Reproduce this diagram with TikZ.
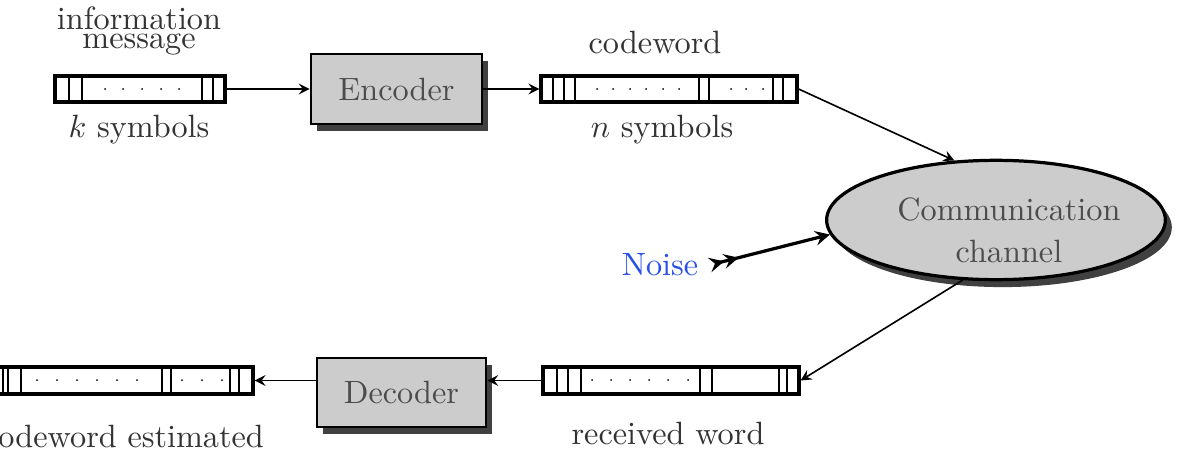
\documentclass[tikz,border=0pt]{standalone}
\usetikzlibrary{shapes,arrows,shadows,fit}

\definecolor{noiseblue}{RGB}{40,80,230}

\tikzset{
  reg/.style={draw, line width=1pt, inner sep=0pt},
  block/.style={draw, line width=0.8pt, fill=black!20, text=black!70, inner sep=0pt,
    drop shadow={shadow xshift=2pt, shadow yshift=-2.3pt, fill=black!75, opacity=1}},
  lbl/.style={text=black!80},
  conn/.style={->, >=stealth, line width=0.5pt}
}

\begin{document}
\begin{tikzpicture}[x=0.31pt, y=-0.31pt]
\useasboundingbox (0,0) rectangle (1182,457);

% registers
\node[reg, fit={(55,76) (225,102)}] (msg) {};
\node[reg, fit={(541,76) (797,102)}] (code) {};
\node[reg, fit={(543,367) (799,394)}] (recv) {};
\node[reg, fit={(-5,367) (253,394)}] (est) {};

\foreach \x in {69,82,202,213} \draw[line width=0.5pt] (\x,76) -- (\x,102);
\foreach \x in {105,123,142,161,179} \fill (\x,89) circle (1);

\foreach \x in {553,564,575,699,709,773,783} \draw[line width=0.5pt] (\x,76) -- (\x,102);
\foreach \x in {597,613,630,646,663,679,731,746,763} \fill (\x,89) circle (1);

\foreach \x in {557,568,581,700,712,779,787} \draw[line width=0.5pt] (\x,367) -- (\x,394);
\foreach \x in {592,611,630,649,668,688} \fill (\x,380) circle (1);

\foreach \x in {3,8,21,162,171,230,239} \draw[line width=0.5pt] (\x,367) -- (\x,394);
\foreach \x in {37,57,77,97,117,137,182,202,222} \fill (\x,380) circle (1);

% blocks
\node[block, minimum width=53pt, minimum height=21.7pt] (enc) at (396.5,89) {Encoder};
\node[block, minimum width=52.4pt, minimum height=21.4pt] (dec) at (401.5,392.5) {\raisebox{-1.5pt}{Decoder}};
\node[block, ellipse, line width=1pt, minimum width=105pt, minimum height=37pt,
  label={[xshift=4pt, yshift=-3.2pt, align=center, text=black!70]center:{Communication\\[1pt]channel}}] (chan) at (996,220) {};

% labels
\node[lbl] (info) at (139,18) {information};
\node[lbl] (infomsg) at (139,45) {message};
\node[lbl] (ksym) at (139,130) {$k$ symbols};
\node[lbl] (cw) at (655,42) {codeword};
\node[lbl] (nsym) at (662,130) {$n$ symbols};
\node[text=noiseblue] (noise) at (660,265) {Noise};
\node[lbl] (rw) at (668,433) {received word};
\node[lbl] (cwest) at (124,436) {codeword estimated};

% connectors
\draw[conn] (msg.east) -- (enc.west);
\draw[conn] (enc.east) -- (code.west);
\draw[conn] (code.east) -- (chan.125);
\draw[conn] (chan.241) -- (recv.east);
\draw[conn] (recv.west) -- (recv.west -| dec.east);
\draw[conn] (est.east -| dec.west) -- (est.east);
\draw[>>->, >=stealth, line width=1pt] (noise.east) -- (chan.185);

\end{tikzpicture}
\end{document}
